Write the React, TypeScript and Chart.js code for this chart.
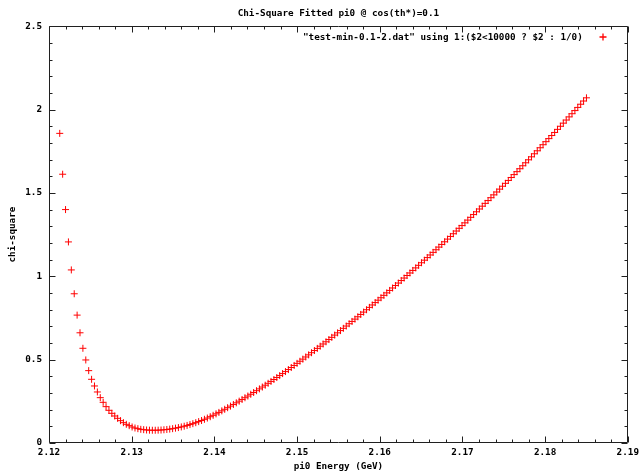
import React, { useEffect, useRef } from "react";
import { Chart, registerables } from "chart.js";

Chart.register(...registerables);

const chartTitle = "Chi-Square Fitted pi0 @ cos(th*)=0.1";
const xAxisTitle = "pi0 Energy (GeV)";
const yAxisTitle = "chi-square";
const seriesLabel = '"test-min-0.1-2.dat" using 1:($2<10000 ? $2 : 1/0)';

const xTicks = [2.12, 2.13, 2.14, 2.15, 2.16, 2.17, 2.18, 2.19];
const xTickLabels = ["2.12", "2.13", "2.14", "2.15", "2.16", "2.17", "2.18", "2.19"];
const yTicks = [0, 0.5, 1, 1.5, 2, 2.5];
const yTickLabels = ["0", "0.5", "1", "1.5", "2", "2.5"];

const energy = [
  2.1213, 2.12165, 2.122, 2.12235, 2.1227, 2.12305, 2.1234, 2.12375, 2.1241, 2.12445,
  2.1248, 2.12515, 2.1255, 2.12585, 2.1262, 2.12655, 2.1269, 2.12725, 2.1276, 2.12795,
  2.1283, 2.12865, 2.129, 2.12935, 2.1297, 2.13005, 2.1304, 2.13075, 2.1311, 2.13145,
  2.1318, 2.13215, 2.1325, 2.13285, 2.1332, 2.13355, 2.1339, 2.13425, 2.1346, 2.13495,
  2.1353, 2.13565, 2.136, 2.13635, 2.1367, 2.13705, 2.1374, 2.13775, 2.1381, 2.13845,
  2.1388, 2.13915, 2.1395, 2.13985, 2.1402, 2.14055, 2.1409, 2.14125, 2.1416, 2.14195,
  2.1423, 2.14265, 2.143, 2.14335, 2.1437, 2.14405, 2.1444, 2.14475, 2.1451, 2.14545,
  2.1458, 2.14615, 2.1465, 2.14685, 2.1472, 2.14755, 2.1479, 2.14825, 2.1486, 2.14895,
  2.1493, 2.14965, 2.15, 2.15035, 2.1507, 2.15105, 2.1514, 2.15175, 2.1521, 2.15245,
  2.1528, 2.15315, 2.1535, 2.15385, 2.1542, 2.15455, 2.1549, 2.15525, 2.1556, 2.15595,
  2.1563, 2.15665, 2.157, 2.15735, 2.1577, 2.15805, 2.1584, 2.15875, 2.1591, 2.15945,
  2.1598, 2.16015, 2.1605, 2.16085, 2.1612, 2.16155, 2.1619, 2.16225, 2.1626, 2.16295,
  2.1633, 2.16365, 2.164, 2.16435, 2.1647, 2.16505, 2.1654, 2.16575, 2.1661, 2.16645,
  2.1668, 2.16715, 2.1675, 2.16785, 2.1682, 2.16855, 2.1689, 2.16925, 2.1696, 2.16995,
  2.1703, 2.17065, 2.171, 2.17135, 2.1717, 2.17205, 2.1724, 2.17275, 2.1731, 2.17345,
  2.1738, 2.17415, 2.1745, 2.17485, 2.1752, 2.17555, 2.1759, 2.17625, 2.1766, 2.17695,
  2.1773, 2.17765, 2.178, 2.17835, 2.1787, 2.17905, 2.1794, 2.17975, 2.1801, 2.18045,
  2.1808, 2.18115, 2.1815, 2.18185, 2.1822, 2.18255, 2.1829, 2.18325, 2.1836, 2.18395,
  2.1843, 2.18465, 2.185,
];

const chiSquare = [
  1.857, 1.612, 1.4, 1.206, 1.038, 0.895, 0.767, 0.661, 0.568, 0.498,
  0.434, 0.382, 0.342, 0.306, 0.272, 0.244, 0.218, 0.196, 0.178, 0.162,
  0.148, 0.134, 0.122, 0.112, 0.104, 0.096, 0.09, 0.086, 0.082, 0.08,
  0.078, 0.077, 0.0765, 0.0765, 0.077, 0.0778, 0.0793, 0.0811, 0.0834, 0.086,
  0.0891, 0.0925, 0.0964, 0.1007, 0.1054, 0.1105, 0.116, 0.1219, 0.1283, 0.135,
  0.1422, 0.1497, 0.1577, 0.1661, 0.1748, 0.1835, 0.1928, 0.2022, 0.2117, 0.2213,
  0.2311, 0.2409, 0.251, 0.2611, 0.2714, 0.2817, 0.2923, 0.3029, 0.3137, 0.3246,
  0.3356, 0.3467, 0.358, 0.3694, 0.3809, 0.3926, 0.4043, 0.4163, 0.4283, 0.4404,
  0.4527, 0.4651, 0.4777, 0.4903, 0.503, 0.5158, 0.5286, 0.5415, 0.5545, 0.5675,
  0.5806, 0.5938, 0.607, 0.6203, 0.6337, 0.6471, 0.6606, 0.6742, 0.6878, 0.7015,
  0.7153, 0.7291, 0.743, 0.757, 0.771, 0.7851, 0.7993, 0.8135, 0.8278, 0.8421,
  0.8566, 0.8711, 0.8856, 0.9003, 0.915, 0.9297, 0.9445, 0.9594, 0.9744, 0.9894,
  1.0045, 1.0197, 1.0349, 1.0502, 1.0656, 1.081, 1.0965, 1.112, 1.1277, 1.1433,
  1.1591, 1.1749, 1.1908, 1.2068, 1.2228, 1.2389, 1.255, 1.2713, 1.2876, 1.3039,
  1.3203, 1.3368, 1.3534, 1.37, 1.3867, 1.4035, 1.4203, 1.4372, 1.4541, 1.4711,
  1.4882, 1.5054, 1.5226, 1.5399, 1.5573, 1.5747, 1.5922, 1.6097, 1.6273, 1.645,
  1.6628, 1.6806, 1.6985, 1.7164, 1.7345, 1.7525, 1.7707, 1.7889, 1.8072, 1.8255,
  1.844, 1.8625, 1.881, 1.8996, 1.9183, 1.9371, 1.9559, 1.9748, 1.9937, 2.0127,
  2.0318, 2.051, 2.0702,
];

const X_MIN = 2.12;
const X_MAX = 2.19;
const Y_MIN = 0;
const Y_MAX = 2.5;
const X_MINOR_PER_MAJOR = 5;
const Y_MINOR_PER_MAJOR = 5;

const FONT_FAMILY = '"DejaVu Sans Mono", "Liberation Mono", monospace';
const FONT_SIZE = 9.3;
const TEXT_COLOR = "#000000";
const FRAME_COLOR = "#202020";
const POINT_COLOR = "#ff0000";

const gnuplotFrame = {
  id: "gnuplotFrame",
  afterDraw(chart: any) {
    const { ctx, chartArea } = chart;
    const xs = chart.scales.x;
    const ys = chart.scales.y;
    const { left, right, top, bottom } = chartArea;
    const major = 6;
    const minor = 3;
    ctx.save();
    ctx.strokeStyle = FRAME_COLOR;
    ctx.lineWidth = 1;
    const L = Math.round(left) + 0.5;
    const R = Math.round(right) - 0.5;
    const T = Math.round(top) + 0.5;
    const B = Math.round(bottom) - 0.5;
    ctx.beginPath();
    ctx.rect(L, T, R - L, B - T);
    ctx.stroke();

    ctx.beginPath();
    for (let i = 0; i < xTicks.length; i++) {
      const v = xTicks[i];
      const px = Math.round(xs.getPixelForValue(v)) + 0.5;
      ctx.moveTo(px, B);
      ctx.lineTo(px, B - major);
      ctx.moveTo(px, T);
      ctx.lineTo(px, T + major);
      if (i < xTicks.length - 1) {
        const next = xTicks[i + 1];
        for (let k = 1; k < X_MINOR_PER_MAJOR; k++) {
          const mv = v + ((next - v) * k) / X_MINOR_PER_MAJOR;
          const mpx = Math.round(xs.getPixelForValue(mv)) + 0.5;
          ctx.moveTo(mpx, B);
          ctx.lineTo(mpx, B - minor);
          ctx.moveTo(mpx, T);
          ctx.lineTo(mpx, T + minor);
        }
      }
    }
    for (let i = 0; i < yTicks.length; i++) {
      const v = yTicks[i];
      const py = Math.round(ys.getPixelForValue(v)) + 0.5;
      ctx.moveTo(L, py);
      ctx.lineTo(L + major, py);
      ctx.moveTo(R, py);
      ctx.lineTo(R - major, py);
      if (i < yTicks.length - 1) {
        const next = yTicks[i + 1];
        for (let k = 1; k < Y_MINOR_PER_MAJOR; k++) {
          const mv = v + ((next - v) * k) / Y_MINOR_PER_MAJOR;
          const mpy = Math.round(ys.getPixelForValue(mv)) + 0.5;
          ctx.moveTo(L, mpy);
          ctx.lineTo(L + minor, mpy);
          ctx.moveTo(R, mpy);
          ctx.lineTo(R - minor, mpy);
        }
      }
    }
    ctx.stroke();

    // key (legend) in the top-right corner of the plot
    const kyText = Math.round(top + 11) + 0.5;
    ctx.font = `bold ${FONT_SIZE}px ${FONT_FAMILY}`;
    ctx.fillStyle = TEXT_COLOR;
    ctx.textAlign = "right";
    ctx.textBaseline = "middle";
    ctx.fillText(seriesLabel, right - 45, kyText);
    const kx = Math.round(right - 25);
    const ky = Math.round(top + 11);
    ctx.strokeStyle = POINT_COLOR;
    ctx.lineWidth = 1.3;
    ctx.beginPath();
    ctx.moveTo(kx - 3.5, ky);
    ctx.lineTo(kx + 3.5, ky);
    ctx.moveTo(kx, ky - 3.5);
    ctx.lineTo(kx, ky + 3.5);
    ctx.stroke();
    ctx.restore();
  },
};

export default function App() {
  const canvasRef = useRef<HTMLCanvasElement | null>(null);

  useEffect(() => {
    document.body.style.margin = "0";
    const canvas = canvasRef.current;
    if (!canvas) return;
    const font = { family: FONT_FAMILY, size: FONT_SIZE, weight: "bold" as const };
    const chart = new Chart(canvas, {
      type: "scatter",
      data: {
        datasets: [
          {
            label: seriesLabel,
            data: energy.map((x, i) => ({ x, y: chiSquare[i] })),
            showLine: false,
            pointStyle: "cross",
            pointRadius: 3.5,
            pointHoverRadius: 3.5,
            pointBorderWidth: 1,
            pointBorderColor: POINT_COLOR,
            pointBackgroundColor: POINT_COLOR,
            borderColor: POINT_COLOR,
            backgroundColor: POINT_COLOR,
          },
        ],
      },
      options: {
        responsive: false,
        animation: false,
        events: [],
        layout: { padding: { left: 0, right: 15, top: 0, bottom: 0 } },
        plugins: {
          legend: { display: false },
          tooltip: { enabled: false },
          title: {
            display: true,
            text: chartTitle,
            fullSize: false,
            color: TEXT_COLOR,
            font,
            padding: { top: 7.6, bottom: 7.4 },
          },
        },
        scales: {
          x: {
            type: "linear",
            min: X_MIN,
            max: X_MAX,
            grid: { display: false, drawTicks: false },
            border: { display: false },
            afterBuildTicks: (scale: any) => {
              scale.ticks = xTicks.map((v) => ({ value: v }));
            },
            afterFit: (scale: any) => {
              scale.height = 32;
            },
            ticks: {
              autoSkip: false,
              maxRotation: 0,
              padding: 4,
              color: TEXT_COLOR,
              font,
              callback: (_v: any, i: number) => xTickLabels[i],
            },
            title: {
              display: true,
              text: xAxisTitle,
              color: TEXT_COLOR,
              font,
              padding: { top: 0, bottom: 3 },
            },
          },
          y: {
            type: "linear",
            min: Y_MIN,
            max: Y_MAX,
            grid: { display: false, drawTicks: false },
            border: { display: false },
            afterBuildTicks: (scale: any) => {
              scale.ticks = yTicks.map((v) => ({ value: v }));
            },
            afterFit: (scale: any) => {
              scale.width = 49;
            },
            ticks: {
              autoSkip: false,
              padding: 7,
              color: TEXT_COLOR,
              font,
              callback: (_v: any, i: number) => yTickLabels[i],
            },
            title: {
              display: true,
              text: yAxisTitle,
              color: TEXT_COLOR,
              font,
              padding: { top: 7.5, bottom: 0 },
            },
          },
        },
      },
      plugins: [gnuplotFrame],
    });
    return () => chart.destroy();
  }, []);

  return (
    <div style={{ width: 643, height: 475 }}>
      <canvas ref={canvasRef} width={643} height={475} style={{ display: "block" }} />
    </div>
  );
}
